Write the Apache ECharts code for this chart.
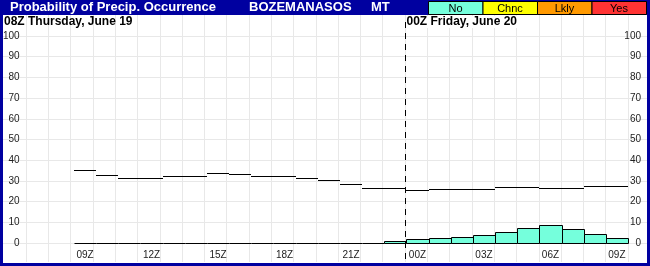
<!DOCTYPE html>
<html><head><meta charset="utf-8">
<script src="https://cdn.jsdelivr.net/npm/echarts@6/dist/echarts.min.js"></script>
<style>html,body{margin:0;padding:0;background:#0000A0;}#c{width:650px;height:266px;}</style>
</head><body><div id="c"></div>
<script>
// ---- data ----
const hours = ['07Z','08Z','09Z','10Z','11Z','12Z','13Z','14Z','15Z','16Z','17Z','18Z','19Z','20Z','21Z','22Z','23Z',
               '00Z','01Z','02Z','03Z','04Z','05Z','06Z','07Z','08Z','09Z'];
const tickLabels = ['09Z','12Z','15Z','18Z','21Z','00Z','03Z','06Z','09Z'];
const popLine = [null,null,35.2,32.8,31.3,31.3,32.5,32.5,33.7,33.2,32.5,32.5,31.3,30.3,28.4,26.4,26.4,
                 25.5,25.9,25.9,25.9,26.9,26.9,26.4,26.4,27.5,27.5];
const noBars = [null,null,0,0,0,0,0,0,0,0,0,0,0,0,0,0,1.2,
                1.9,2.3,2.9,3.9,5.5,7.2,8.7,6.8,4.3,2.4];
const yTicks = [0,100,10];
const dayLabels = ['08Z Thursday, June 19','00Z Friday, June 20'];
const dayBreakIndex = 17;
const titleParts = ['Probability of Precip. Occurrence','BOZEMANASOS','MT'];
const legendNames = ['No','Chnc','Lkly','Yes'];
const legendColors = ['#75FFDC','#FFFF00','#FF9900','#FF3333'];

const chart = echarts.init(document.getElementById('c'), null, {renderer:'canvas'});
const FONT = 'Liberation Sans, Arial, sans-serif';
const half = v => Math.round(v) + 0.5;
const GRID = '#E8E8E8';

const option = {
  animation:false,
  backgroundColor:'#0000A0',
  grid:[
    {left:26,right:22,top:36,bottom:23},
    {left:26,right:22,top:15,bottom:4},
    {left:3,right:3,top:36,bottom:23}
  ],
  xAxis:[
    {type:'category',gridIndex:0,data:hours,boundaryGap:true,
     axisLine:{show:false},axisTick:{show:false},splitLine:{show:false},
     axisLabel:{show:true,interval:(i,v)=> i>=2 && (i-2)%3===0 && tickLabels.indexOf(v)>=0,margin:7,fontSize:10,color:'#222',fontFamily:FONT}},
    {type:'category',gridIndex:1,data:hours,boundaryGap:true,
     axisLine:{show:false},axisTick:{show:false},axisLabel:{show:false},
     splitLine:{show:true,interval:0,lineStyle:{color:GRID,width:1}}},
    {type:'value',gridIndex:2,min:0,max:1,show:false}
  ],
  yAxis:[
    {type:'value',gridIndex:0,min:yTicks[0],max:yTicks[1],interval:yTicks[2],position:'left',
     axisLine:{show:false},axisTick:{show:false},splitLine:{show:false},
     axisLabel:{margin:10,fontSize:10,color:'#222',fontFamily:FONT}},
    {type:'value',gridIndex:0,min:yTicks[0],max:yTicks[1],interval:yTicks[2],position:'right',
     axisLine:{show:false},axisTick:{show:false},splitLine:{show:false},
     axisLabel:{margin:13,align:'right',fontSize:10,color:'#222',fontFamily:FONT}},
    {type:'value',gridIndex:1,min:0,max:1,show:false},
    {type:'value',gridIndex:2,min:yTicks[0],max:yTicks[1],interval:yTicks[2],
     axisLine:{show:false},axisTick:{show:false},axisLabel:{show:false},
     splitLine:{show:true,lineStyle:{color:GRID,width:1}}}
  ],
  graphic:[
    {type:'rect',z:-10,shape:{x:3,y:15,width:644,height:248},style:{fill:'#fff'}},
    {type:'text',left:10,top:1,style:{text:titleParts[0],fill:'#fff',font:'bold 13px '+FONT}},
    {type:'text',left:249,top:1,style:{text:titleParts[1],fill:'#fff',font:'bold 13px '+FONT}},
    {type:'text',left:371,top:1,style:{text:titleParts[2],fill:'#fff',font:'bold 13px '+FONT}},
    {type:'text',left:4,top:16,z:5,style:{text:dayLabels[0],fill:'#000',font:'bold 12px '+FONT}}
  ].concat(legendNames.map((n,i)=>({
    type:'group',children:[
      {type:'rect',shape:{x:428.5+54.5*i,y:1.5,width:54.5,height:13},style:{fill:legendColors[i],stroke:'#000',lineWidth:1}},
      {type:'text',x:428.5+54.5*i+27,y:8.5,style:{text:n,fill:'#000',font:'11px '+FONT,align:'center',verticalAlign:'middle'}}
    ]}))),
  series:[
    {type:'custom',xAxisIndex:0,yAxisIndex:0,z:3,
     data:noBars.map((v,i)=>[i,v]),
     renderItem:(params,api)=>{
       const v = api.value(1);
       if (v===null || v===undefined || isNaN(v)) return null;
       const i = api.value(0);
       const w = api.size([1,0])[0];
       const p0 = api.coord([i,0]);
       const p1 = api.coord([i,v]);
       const x0 = half(p0[0]-w/2), x1 = half(p0[0]+w/2);
       const yb = half(p0[1]), yt = half(p1[1]);
       if (yb-yt < 0.6) {
         return {type:'line',shape:{x1:x0,y1:yb,x2:x1,y2:yb},style:{stroke:'#000',lineWidth:1}};
       }
       return {type:'rect',shape:{x:x0,y:yt,width:x1-x0,height:yb-yt},style:{fill:legendColors[0],stroke:'#000',lineWidth:1}};
     }},
    {type:'custom',xAxisIndex:0,yAxisIndex:0,z:4,
     data:popLine.map((v,i)=>[i,v]),
     renderItem:(params,api)=>{
       const v = api.value(1);
       if (v===null || v===undefined || isNaN(v)) return null;
       const i = api.value(0);
       const w = api.size([1,0])[0];
       const p = api.coord([i,v]);
       const y = half(p[1]);
       return {type:'line',shape:{x1:Math.round(p[0]-w/2),y1:y,x2:Math.round(p[0]+w/2),y2:y},style:{stroke:'#000',lineWidth:1}};
     }},
    {type:'custom',xAxisIndex:1,yAxisIndex:2,z:5,
     data:[[dayBreakIndex,0]],
     renderItem:(params,api)=>{
       const w = api.size([1,0])[0];
       const p = api.coord([api.value(0),0]);
       const x = half(p[0]-w/2);
       const cs = params.coordSys;
       return {type:'group',children:[
         {type:'line',shape:{x1:x,y1:cs.y+7,x2:x,y2:cs.y+cs.height-2},style:{stroke:'#000',lineWidth:1,lineDash:[6,5]}},
         {type:'text',x:x+1,y:cs.y+1,style:{text:dayLabels[1],fill:'#000',font:'bold 12px '+FONT,backgroundColor:'#fff'}}
       ]};
     }}
  ]
};
chart.setOption(option);
</script></body></html>
